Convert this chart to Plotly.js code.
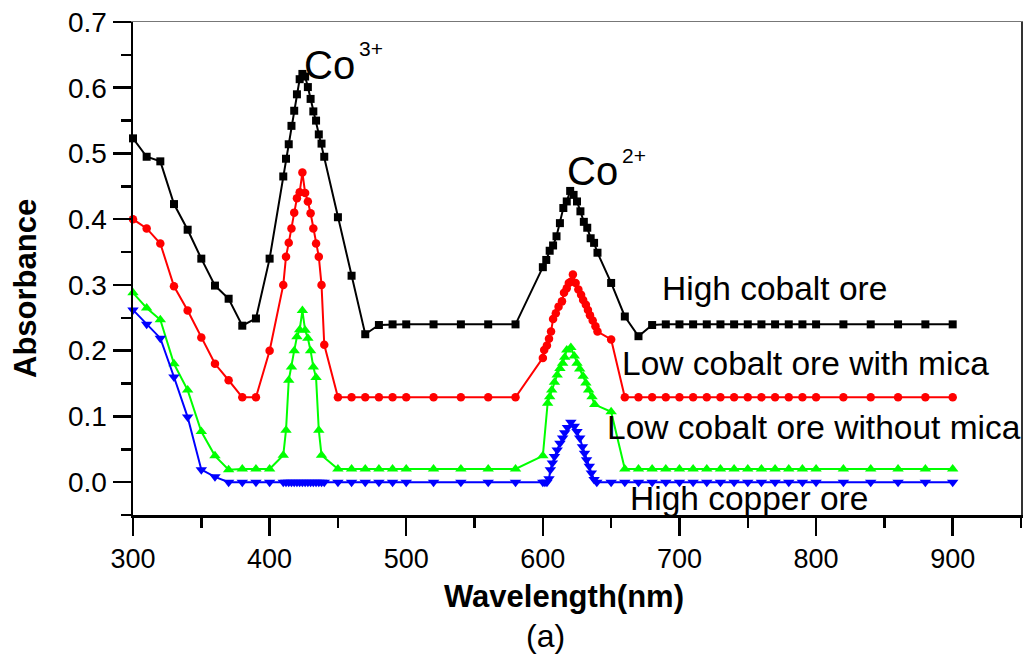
<!DOCTYPE html>
<html>
<head>
<meta charset="utf-8">
<script src="https://cdn.plot.ly/plotly-3.0.1.min.js"></script>
<style>html,body{margin:0;padding:0;background:#fff;}#chart{width:1028px;height:656px;}</style>
</head>
<body>
<div id="chart"></div>
<script>
// ---- Data (wavelength in nm, absorbance) ----
const seriesNames = ["High cobalt ore", "Low cobalt ore with mica", "Low cobalt ore without mica", "High copper ore"];

const highCobaltX = [300,310,320,330,340,350,360,370,380,390,400,
  410,412,414,416,418,420,422,424,426,428,430,432,434,436,438,440,
  450,460,470,480,490,500,520,540,560,580,
  600,602.5,605,607.5,610,612.5,615,617.5,620,622.5,625,627.5,630,632.5,635,637.5,640,
  650,660,670,680,690,700,710,720,730,740,750,760,770,780,790,800,820,840,860,880,900];
const highCobaltY = [0.523,0.495,0.488,0.423,0.384,0.340,0.299,0.279,0.238,0.249,0.340,
  0.465,0.492,0.514,0.542,0.565,0.590,0.613,0.621,0.617,0.601,0.583,0.564,0.550,0.529,0.515,0.495,
  0.403,0.314,0.225,0.239,0.240,0.240,0.240,0.240,0.240,0.240,
  0.327,0.338,0.352,0.360,0.374,0.394,0.417,0.427,0.443,0.437,0.427,0.412,0.396,0.387,0.371,0.364,0.349,
  0.303,0.252,0.222,0.239,0.240,0.240,0.240,0.240,0.240,0.240,0.240,0.240,0.240,0.240,0.240,0.240,0.240,0.240,0.240,0.240,0.240];

const lowMicaX = [300,310,320,330,340,350,360,370,380,390,400,
  410,412,414,416,418,420,422,424,426,428,430,432,434,436,438,440,
  450,460,470,480,490,500,520,540,560,580,
  600,601,603,604.5,606,607.5,609.5,611.5,614,615.5,617.5,619,620.5,622,624,626,628,629.5,631.5,633,634.5,636.5,638.5,640,
  650,660,670,680,690,700,710,720,730,740,750,760,770,780,790,800,820,840,860,880,900];
const lowMicaY = [0.400,0.386,0.363,0.298,0.261,0.220,0.180,0.155,0.129,0.129,0.200,
  0.300,0.343,0.364,0.386,0.410,0.432,0.441,0.471,0.440,0.427,0.409,0.386,0.363,0.343,0.300,0.209,
  0.129,0.129,0.129,0.129,0.129,0.129,0.129,0.129,0.129,0.129,
  0.189,0.201,0.208,0.218,0.229,0.248,0.257,0.267,0.275,0.288,0.295,0.303,0.305,0.316,0.303,0.293,0.285,0.277,0.270,0.262,0.254,0.246,0.237,0.229,
  0.217,0.129,0.129,0.129,0.129,0.129,0.129,0.129,0.129,0.129,0.129,0.129,0.129,0.129,0.129,0.129,0.129,0.129,0.129,0.129,0.129];

const lowNoMicaX = [300,310,320,330,340,350,360,370,380,390,400,
  410,412,414,416,418,420,422,424,426,428,430,432,434,436,438,
  450,460,470,480,490,500,520,540,560,580,
  600,603.5,605,606.5,608.5,610.5,612.5,614.5,616,617.5,620.5,623,625,627,629.5,631.5,633.5,636,638,
  650,660,670,680,690,700,710,720,730,740,750,760,770,780,790,800,820,840,860,880,900];
const lowNoMicaY = [0.288,0.265,0.247,0.180,0.140,0.077,0.040,0.019,0.020,0.020,0.020,
  0.041,0.079,0.155,0.175,0.200,0.221,0.232,0.261,0.231,0.219,0.200,0.175,0.159,0.079,0.041,
  0.020,0.020,0.020,0.020,0.020,0.020,0.020,0.020,0.020,0.020,
  0.040,0.120,0.130,0.140,0.152,0.163,0.173,0.181,0.190,0.201,0.205,0.192,0.181,0.172,0.161,0.151,0.140,0.130,0.118,
  0.107,0.020,0.020,0.020,0.020,0.020,0.020,0.020,0.020,0.020,0.020,0.020,0.020,0.020,0.020,0.020,0.020,0.020,0.020,0.020,0.020];

const copperX = [300,310,320,330,340,350,360,370,380,390,400,
  410,412,414,416,418,420,422,424,426,428,430,432,434,436,438,440,
  450,460,470,480,490,500,520,540,560,580,
  600,601.5,603,604.5,605.5,607,608.5,610.5,612.5,614.5,616,618,620.5,623,625,627,629,630.5,632,634,635.5,637.5,639.5,
  650,660,670,680,690,700,710,720,730,740,750,760,770,780,790,800,820,840,860,880,900];
const copperY = [0.262,0.240,0.219,0.160,0.099,0.019,0.008,0,0,0,0,
  0,0,0,0,0,0,0,0,0,0,0,0,0,0,0,0,
  0,0,0,0,0,0,0,0,0,0,
  0,0,0,0.005,0.019,0.029,0.039,0.049,0.059,0.067,0.075,0.083,0.091,0.085,0.077,0.067,0.054,0.044,0.034,0.024,0.014,0.004,0,
  0,0,0,0,0,0,0,0,0,0,0,0,0,0,0,0,0,0,0,0,0];

const xTitle = "Wavelength(nm)";
const yTitle = "Absorbance";
const panelLabel = "(a)";

const FONT = "Arial, 'Liberation Sans', Helvetica, sans-serif";

function tr(x, y, name, color, symbol, size) {
  return {x: x, y: y, name: name, type: "scatter", mode: "lines+markers",
    line: {color: color, width: 2}, marker: {color: color, symbol: symbol, size: size, line: {width: 0}},
    cliponaxis: false, showlegend: false};
}

const data = [
  tr(highCobaltX, highCobaltY, seriesNames[0], "#000000", "square", 8),
  tr(lowMicaX, lowMicaY, seriesNames[1], "#ff0000", "circle", 8.5),
  tr(lowNoMicaX, lowNoMicaY, seriesNames[2], "#00ff00", "triangle-up", 10),
  tr(copperX, copperY, seriesNames[3], "#0000ff", "triangle-down", 10)
];

function ann(text, x, y, size) {
  return {text: text, x: x, y: y, xref: "x", yref: "y", showarrow: false,
    xanchor: "center", yanchor: "middle", font: {family: FONT, size: size, color: "#000"}};
}

const layout = {
  width: 1028, height: 656,
  margin: {l: 133, r: 7, t: 22, b: 141},
  paper_bgcolor: "#fff", plot_bgcolor: "#fff",
  font: {family: FONT, color: "#000"},
  showlegend: false,
  xaxis: {
    range: [300, 950], tick0: 300, dtick: 100,
    ticks: "outside", ticklen: 18, tickwidth: 2.5, tickcolor: "#000",
    minor: {dtick: 50, ticks: "outside", ticklen: 10, tickwidth: 2.5, tickcolor: "#000", showgrid: false},
    showline: true, linewidth: 2.5, linecolor: "#000",
    showgrid: false, zeroline: false,
    tickfont: {family: FONT, size: 27, color: "#000"}
  },
  yaxis: {
    range: [-0.05, 0.7], tick0: 0, dtick: 0.1, tickformat: ".1f",
    ticks: "outside", ticklen: 18, tickwidth: 2.5, tickcolor: "#000",
    minor: {dtick: 0.05, ticks: "outside", ticklen: 10, tickwidth: 2.5, tickcolor: "#000", showgrid: false},
    showline: true, linewidth: 2.5, linecolor: "#000",
    showgrid: false, zeroline: false,
    tickfont: {family: FONT, size: 28, color: "#000"}
  },
  xaxis2: {overlaying: "x", side: "top", range: [300, 950], showline: true, linecolor: "#777", linewidth: 1.5,
    ticks: "", showticklabels: false, showgrid: false, zeroline: false},
  yaxis2: {overlaying: "y", side: "right", range: [-0.05, 0.7], showline: true, linecolor: "#333", linewidth: 1.5,
    ticks: "", showticklabels: false, showgrid: false, zeroline: false},
  annotations: [
    ann("Co", 444, 0.635, 40),
    ann("3+", 474, 0.659, 21),
    ann("Co", 636.5, 0.474, 40),
    ann("2+", 667, 0.497, 21),
    ann(seriesNames[0], 769.7, 0.2945, 33.5),
    ann(seriesNames[1], 792.3, 0.180, 33.5),
    ann(seriesNames[2], 798.2, 0.0826, 33.5),
    ann(seriesNames[3], 751, -0.025, 33.5),
    // axis titles, placed where the reference draws them
    {text: xTitle, xref: "paper", yref: "paper", x: (564 - 133) / 888, y: (515 - 596) / 493, showarrow: false,
      xanchor: "center", yanchor: "middle", font: {family: FONT, size: 31, weight: "bold", color: "#000"}},
    {text: yTitle, xref: "paper", yref: "paper", x: (25 - 133) / 888, y: (515 - 289) / 493, showarrow: false,
      textangle: -90, xanchor: "center", yanchor: "middle", font: {family: FONT, size: 31, weight: "bold", color: "#000"}},
    {text: panelLabel, xref: "paper", yref: "paper", x: (545 - 133) / 888, y: (515 - 636) / 493, showarrow: false,
      xanchor: "center", yanchor: "middle", font: {family: FONT, size: 32, color: "#000"}}
  ]
};

// empty trace bound to the frame axes so they are drawn
data.push({x: [], y: [], xaxis: "x2", yaxis: "y2", type: "scatter", showlegend: false, hoverinfo: "skip"});

Plotly.newPlot("chart", data, layout, {staticPlot: true, displayModeBar: false});
</script>
</body>
</html>
